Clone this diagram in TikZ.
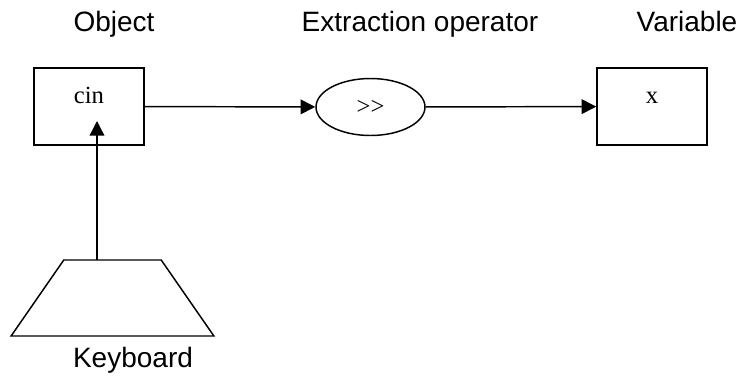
\documentclass[tikz,border=0pt]{standalone}
\usepackage{fontspec}
\setmainfont{Liberation Serif}
\setsansfont{Liberation Sans}
\usetikzlibrary{arrows.meta,shapes.geometric,positioning}

\begin{document}
\begin{tikzpicture}[x=0.75pt, y=-0.75pt, line width=1.1pt,
    >={Triangle[length=11pt,width=11pt]},
    box/.style={draw, rectangle, minimum width=82.5pt, minimum height=57.75pt},
    oper/.style={draw, ellipse, inner sep=0pt, minimum width=81.75pt, minimum height=42.75pt,
                 font=\fontsize{18.5}{22}\selectfont},
    keys/.style={draw, trapezium, trapezium left angle=61.6, trapezium right angle=61.6,
                 trapezium stretches=true, minimum width=152.25pt, minimum height=57pt, outer sep=0pt},
    val/.style={anchor=base, font=\fontsize{18.5}{22}\selectfont},
    caption/.style={anchor=base, font=\sffamily\fontsize{21}{25}\selectfont}]
  \useasboundingbox (0,0) rectangle (745,376);

  % boxes and operator
  \node[box]  (cin) at (89,106.5)  {};
  \node[oper] (op)  at (370.5,107) {>\kern0pt>};
  \node[box]  (var) at (652,106.5) {};
  \node[val] (cintext) at (89,103)  {cin};
  \node[val] (vartext) at (652,103) {x};

  % keyboard
  \node[keys] (kbd) at (112.5,298) {};
  \coordinate (cinin) at (97,121);

  % captions
  \node[caption] (objlbl) at (114,31)  {Object};
  \node[caption] (oplbl)  at (420,31)  {Extraction operator};
  \node[caption] (varlbl) at (687,31)  {Variable};
  \node[caption] (kbdlbl) at (133,367) {Keyboard};

  \path[->]
        (cin) edge (op)
        (op)  edge (var)
        (kbd.north -| cinin) edge (cinin);
\end{tikzpicture}
\end{document}
